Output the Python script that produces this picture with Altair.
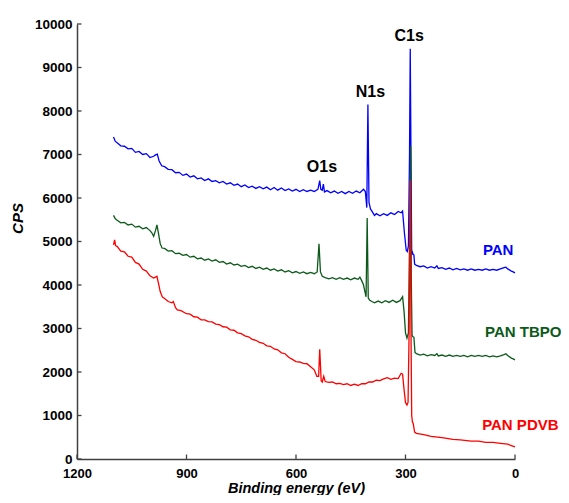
import altair as alt
import pandas as pd

# ---------------- data ----------------
pan_ev = [1100, 1095, 1090, 1080, 1070, 1060, 1050, 1040, 1030, 1020, 1010, 1000, 990, 985, 980, 975, 968, 960,
          950, 940, 930, 920, 910, 900, 890, 880, 870, 860, 850, 840, 830, 820, 810, 800, 790, 780, 770, 760,
          750, 740, 730, 720, 710, 700, 690, 680, 670, 660, 650, 640, 630, 620, 610, 600, 590, 580, 570, 560,
          550, 540, 535, 532, 528, 525, 522, 515, 505, 495, 485, 475, 465, 455, 445, 435, 425, 415, 410, 406,
          403, 400, 396, 392, 385, 380, 370, 360, 350, 340, 330, 320, 312, 308, 303, 298, 295, 292, 289, 287,
          285, 283, 281, 279, 277, 275, 270, 260, 250, 240, 230, 220, 214, 210, 200, 190, 180, 170, 160, 150,
          140, 130, 120, 110, 100, 90, 80, 70, 60, 50, 40, 30, 25, 20, 10, 5, 0]
pan_cps = [7400, 7300, 7270, 7200, 7190, 7130, 7140, 7050, 7070, 7000, 7020, 6930, 6960, 6990, 7010, 6850, 6740, 6720,
           6660, 6650, 6580, 6590, 6520, 6550, 6480, 6510, 6440, 6460, 6400, 6440, 6380, 6400, 6350, 6380, 6320, 6350, 6290, 6320,
           6260, 6300, 6240, 6270, 6220, 6260, 6210, 6250, 6190, 6240, 6180, 6230, 6170, 6210, 6160, 6200, 6150, 6190, 6150, 6180,
           6150, 6200, 6400, 6200, 6180, 6320, 6140, 6170, 6120, 6160, 6110, 6150, 6100, 6150, 6110, 6160, 6120, 6200, 6150, 5780,
           8150, 5900, 5750, 5700, 5600, 5640, 5590, 5640, 5600, 5660, 5620, 5690, 5660, 5700, 5200, 4800, 4770, 4900, 7000, 9430,
           7000, 4700, 4750, 4700, 4690, 4480, 4450, 4420, 4440, 4390, 4420, 4390, 4440, 4380, 4400, 4360, 4390, 4350, 4380, 4350,
           4370, 4340, 4370, 4340, 4360, 4340, 4370, 4340, 4360, 4340, 4370, 4400, 4410, 4370, 4320, 4300, 4280]

tbpo_ev = [1100, 1095, 1090, 1080, 1070, 1060, 1050, 1040, 1030, 1020, 1010, 1000, 995, 990, 985, 981, 977, 972, 967, 960,
           950, 940, 930, 920, 910, 900, 890, 880, 870, 860, 850, 840, 830, 820, 810, 800, 790, 780, 770, 760,
           750, 740, 730, 720, 710, 700, 690, 680, 670, 660, 650, 640, 630, 620, 610, 600, 590, 580, 570, 560,
           550, 542, 537, 533, 528, 520, 510, 500, 490, 480, 470, 460, 450, 440, 430, 425, 420, 415, 410, 408,
           405, 402, 398, 392, 385, 375, 365, 355, 345, 335, 325, 315, 308, 304, 300, 296, 292, 289, 286, 284,
           282, 280, 277, 274, 270, 260, 250, 240, 230, 220, 214, 210, 200, 190, 180, 170, 160, 150, 140, 130,
           120, 110, 100, 90, 80, 70, 60, 50, 40, 30, 25, 20, 10, 5, 0]
tbpo_cps = [5600, 5520, 5490, 5430, 5440, 5380, 5400, 5330, 5350, 5290, 5320, 5250, 5200, 5120, 5250, 5380, 5200, 4950, 4850, 4840,
            4780, 4790, 4720, 4730, 4680, 4700, 4640, 4660, 4600, 4620, 4570, 4600, 4550, 4580, 4520, 4540, 4480, 4510, 4460, 4480,
            4430, 4450, 4400, 4430, 4380, 4410, 4360, 4390, 4340, 4370, 4320, 4350, 4300, 4330, 4280, 4310, 4270, 4300, 4260, 4290,
            4260, 4300, 4950, 4300, 4200, 4170, 4140, 4170, 4130, 4170, 4130, 4160, 4120, 4160, 4130, 4180, 4100, 4000, 3800, 3730,
            5540, 3700, 3650, 3620, 3590, 3630, 3590, 3640, 3600, 3650, 3600, 3640, 3730, 3400, 2900, 2780, 2900, 5000, 7200, 4000,
            2850, 2810, 2800, 2450, 2420, 2390, 2410, 2370, 2400, 2380, 2420, 2370, 2390, 2360, 2390, 2360, 2380, 2360, 2380, 2350,
            2380, 2360, 2380, 2360, 2380, 2350, 2370, 2350, 2370, 2400, 2420, 2380, 2320, 2300, 2280]

pdvb_ev = [1100, 1097, 1094, 1090, 1080, 1070, 1060, 1050, 1040, 1030, 1020, 1010, 1000, 990, 985, 981, 977, 972, 966, 960,
           950, 940, 936, 930, 925, 915, 900, 890, 880, 870, 860, 850, 840, 830, 820, 810, 800, 790, 780, 770,
           760, 750, 740, 730, 720, 710, 700, 690, 680, 670, 660, 650, 640, 630, 620, 610, 600, 590, 580, 570,
           560, 550, 543, 538, 535, 531, 528, 524, 520, 510, 500, 490, 480, 470, 460, 450, 440, 430, 420, 410,
           400, 390, 380, 370, 360, 350, 340, 330, 320, 312, 308, 304, 300, 296, 293, 290, 287, 285, 283, 281,
           279, 275, 270, 250, 230, 200, 170, 150, 120, 100, 80, 60, 40, 20, 10, 0]
pdvb_cps = [4920, 5040, 4900, 4890, 4780, 4760, 4660, 4640, 4520, 4480, 4360, 4320, 4210, 4160, 4180, 4200, 4050, 3850, 3720, 3690,
            3620, 3590, 3620, 3480, 3430, 3410, 3340, 3330, 3270, 3260, 3200, 3200, 3160, 3150, 3100, 3090, 3040, 3030, 2970, 2960,
            2900, 2880, 2830, 2810, 2750, 2730, 2680, 2660, 2600, 2590, 2530, 2510, 2440, 2420, 2340, 2290, 2240, 2230, 2200, 2190,
            2120, 2050, 1900, 1900, 2520, 1800, 1770, 1900, 1780, 1760, 1770, 1730, 1740, 1710, 1730, 1690, 1720, 1690, 1730, 1730,
            1770, 1770, 1810, 1800, 1840, 1870, 1830, 1860, 1850, 1970, 1950, 1600, 1300, 1240, 1300, 3000, 6400, 3000, 1000, 850,
            820, 620, 590, 560, 520, 490, 450, 440, 410, 410, 380, 380, 360, 340, 310, 280]

series_names = ["PAN", "PAN TBPO", "PAN PDVB"]
series_colors = ["#0000ff", "#0b5a1a", "#ff0000"]
label_ev = [88, 82, 90]
label_cps = [4690, 2800, 670]

peak_names = ["C1s", "N1s", "O1s"]
peak_ev = [290, 396, 529]
peak_cps = [9600, 8330, 6600]

x_ticks = [1200, 900, 600, 300, 0]
y_ticks = list(range(0, 10001, 1000))

# ---------------- chart ----------------
W, H = 438, 435
FONT = "Liberation Sans"
AX = "#404040"
xscale = alt.Scale(domain=[1200, 0], nice=False, zero=False)
yscale = alt.Scale(domain=[0, 10000], nice=False)

xaxis = alt.Axis(values=x_ticks, format="d", tickSize=0, labelFontSize=13, labelFontWeight="bold", labelFont=FONT,
                 labelColor="black", labelPadding=8, domainColor=AX, domainWidth=1.5, grid=False,
                 labelFlush=False, title="Binding energy (eV)", titleFont=FONT, titleFontSize=14.5,
                 titleFontStyle="italic", titleFontWeight="bold", titleColor="black",
                 titleY=33, titleBaseline="alphabetic")
yaxis = alt.Axis(values=y_ticks, format="d", tickSize=0, labelFontSize=13.5, labelFontWeight="bold", labelFont=FONT,
                 labelColor="black", labelPadding=5, domainColor=AX, domainWidth=1.5, grid=False,
                 title="CPS", titleFont=FONT, titleFontSize=15, titleFontStyle="italic", titleFontWeight="bold",
                 titleColor="black", titleAngle=270, titleX=-52, titleY=194, titleAlign="center",
                 titleBaseline="bottom")

X = lambda f: alt.X(f, scale=xscale, axis=xaxis)
Y = lambda f: alt.Y(f, scale=yscale, axis=yaxis)


def line(ev, cps, color):
    df = pd.DataFrame({"ev": ev, "cps": cps})
    return alt.Chart(df).mark_line(color=color, strokeWidth=1.3).encode(x=X("ev:Q"), y=Y("cps:Q"))


l1 = line(pan_ev, pan_cps, series_colors[0])
l2 = line(tbpo_ev, tbpo_cps, series_colors[1])
l3 = line(pdvb_ev, pdvb_cps, series_colors[2])

# inward ticks
tick_len_y = 4.5 / H * 10000
tick_len_x = 4.5 / W * 1200
xt_df = pd.DataFrame({"ev": x_ticks, "y0": [0] * len(x_ticks), "y1": [tick_len_y] * len(x_ticks)})
yt_df = pd.DataFrame({"cps": y_ticks, "x0": [1200] * len(y_ticks), "x1": [1200 - tick_len_x] * len(y_ticks)})
xt = alt.Chart(xt_df).mark_rule(color=AX, strokeWidth=1.3).encode(x=X("ev:Q"), y=Y("y0:Q"), y2="y1:Q")
yt = alt.Chart(yt_df).mark_rule(color=AX, strokeWidth=1.3).encode(y=Y("cps:Q"), x=X("x0:Q"), x2="x1:Q")

lab_df = pd.DataFrame({"name": series_names, "ev": label_ev, "cps": label_cps, "color": series_colors})
labels = alt.Chart(lab_df).mark_text(align="left", baseline="alphabetic", font=FONT, fontSize=15,
                                     fontWeight="bold").encode(
    x=X("ev:Q"), y=Y("cps:Q"), text="name:N", color=alt.Color("color:N", scale=None))

pk_df = pd.DataFrame({"name": peak_names, "ev": peak_ev, "cps": peak_cps})
peaks = alt.Chart(pk_df).mark_text(align="center", baseline="alphabetic", font=FONT, fontSize=16,
                                   fontWeight="bold", color="black").encode(
    x=X("ev:Q"), y=Y("cps:Q"), text="name:N")

chart = alt.layer(l1, l2, l3, xt, yt, labels, peaks).properties(
    width=W, height=H,
    autosize=alt.AutoSizeParams(type="none"),
    padding={"left": 69, "top": 16, "right": 46, "bottom": 36},
    background="white",
).configure_view(stroke=None)

chart.save("out.html", embed_options={"renderer": "svg", "actions": False})
